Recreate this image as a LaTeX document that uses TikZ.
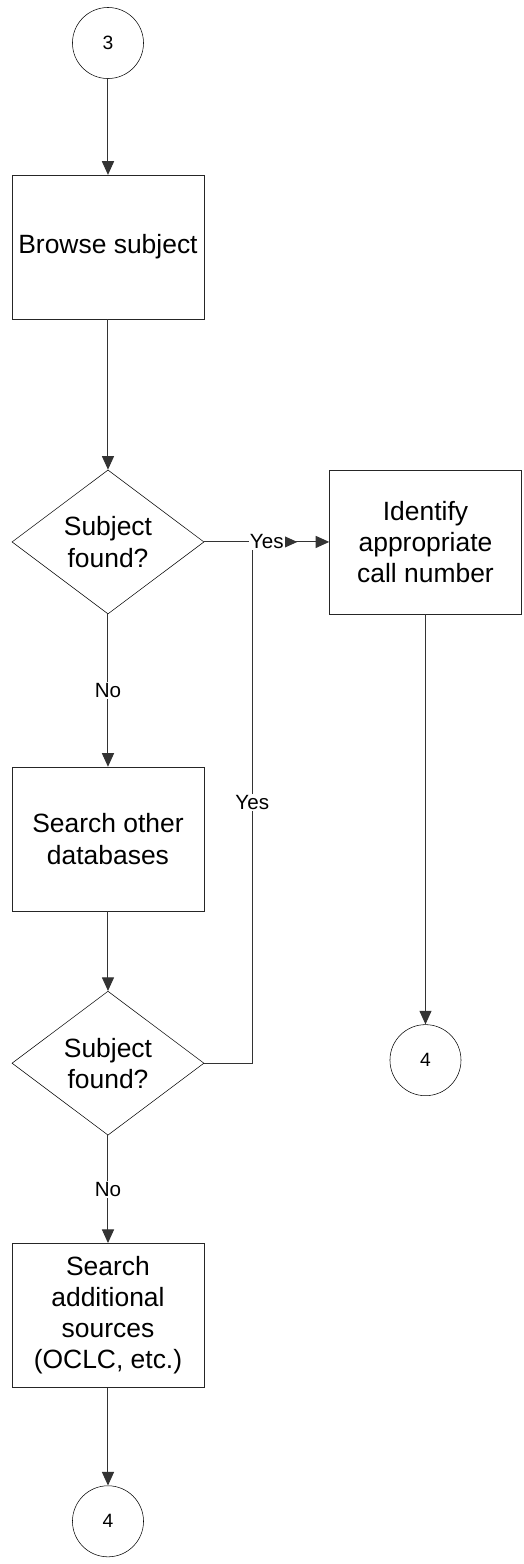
\documentclass[tikz,border=0pt]{standalone}
\usepackage{fontspec}
\setmainfont{Liberation Sans}
\usetikzlibrary{positioning, shapes.geometric, calc, arrows.meta}
\tikzstyle{offpage} = [circle, minimum size=1.88cm, inner sep=0pt, draw=black, font=\fontsize{14.5}{17}\selectfont]
\tikzstyle{process} = [rectangle, minimum width=5.08cm, minimum height=3.81cm, text centered, draw=black!85, font=\fontsize{19.9}{23.5}\selectfont]
\tikzstyle{decision} = [diamond, aspect=1.33, inner sep=0pt, minimum width=5.08cm, minimum height=3.81cm, text centered, draw=black, font=\fontsize{19.9}{23.5}\selectfont]
\tikzstyle{arrow} = [-{Triangle[length=0.36cm, width=0.32cm]}, draw=black!80, line width=0.75pt]
\tikzstyle{line} = [draw=black!80, line width=0.75pt]
\tikzstyle{answer} = [fill=white, inner sep=1pt, font=\fontsize{15.5}{18}\selectfont]

\begin{document}
\begin{tikzpicture}[node distance=5.4cm, align=center]
  \useasboundingbox (-2.857,1.138) rectangle (10.98,-40.24);
  % shapes
  \node (c3) [offpage] {3};
  \node (browse) [process, below of=c3] {Browse subject};
  \node (dec1) [decision, below of=browse, yshift=-2.4cm] {Subject\\found?};
  \node (ident) [process, right of=dec1, xshift=3cm] {Identify\\appropriate\\call number};
  \node (c4a) [offpage, below of=ident, yshift=-8.31cm] {4};
  \node (other) [process, below of=dec1, yshift=-2.46cm] {Search other\\databases};
  \node (dec2) [decision, below of=other, yshift=-0.53cm] {Subject\\found?};
  \node (extra) [process, below of=dec2, yshift=-1.27cm] {Search\\additional\\sources\\(OCLC, etc.)};
  \node (c4b) [offpage, below of=extra, yshift=-0.05cm] {4};
  \coordinate (join) at ($(dec1.east) + (2.46,0)$);

  % connectors
  \draw [arrow](c3) -- (browse);
  \draw [arrow](browse) -- (dec1);
  \draw [line](dec2.east) -- ($(dec2.east) + (1.27,0)$) -- node[answer] {Yes} ($(dec1.east) + (1.27,0)$);
  \draw [arrow]($(dec1.east) + (1.27,0)$) -- (join);
  \draw [arrow](dec1) -- node[answer] {Yes} (ident);
  \draw [arrow](dec1) -- node[answer] {No} (other);
  \draw [arrow](ident) -- (c4a);
  \draw [arrow](other) -- (dec2);
  \draw [arrow](dec2) -- node[answer] {No} (extra);
  \draw [arrow](extra) -- (c4b);
\end{tikzpicture}
\end{document}
